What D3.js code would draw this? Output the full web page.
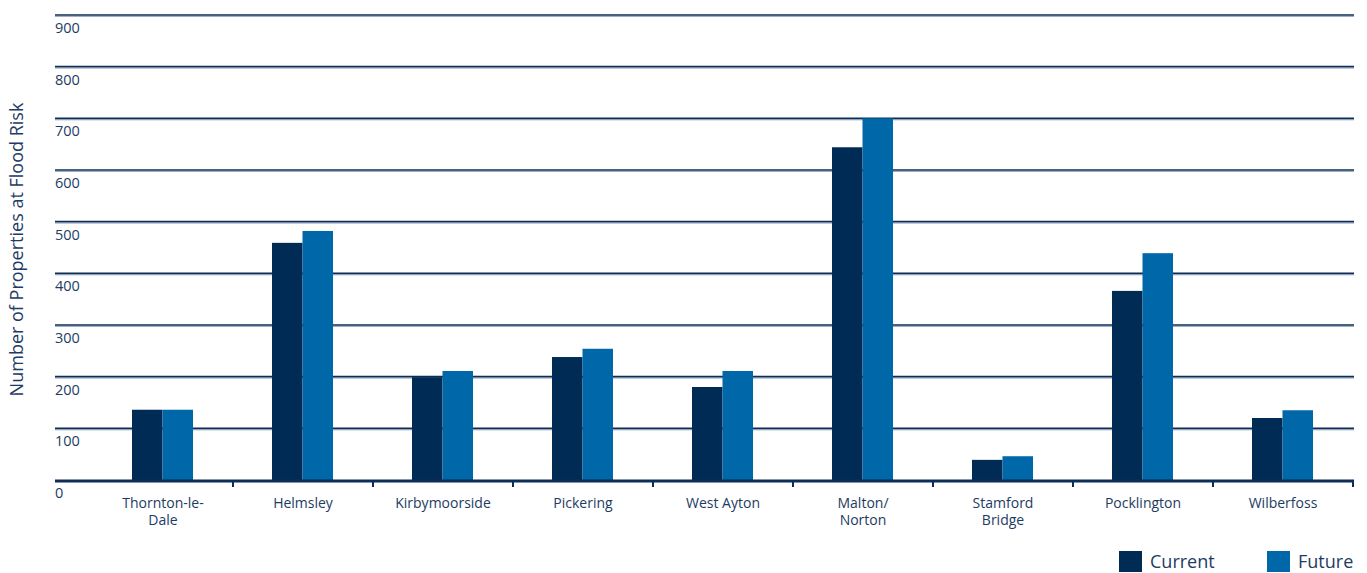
<!DOCTYPE html>
<html>
<head>
<meta charset="utf-8">
<script src="https://cdn.jsdelivr.net/npm/d3@7"></script>
<style>
  body { margin: 0; background: #fff; }
  svg text { font-family: 'Open Sans', sans-serif; fill: #1d3b63; }
</style>
</head>
<body>
<div class="canvas"></div>
<script>
// data
const towns = [
  ['Thornton-le-', 'Dale'],
  ['Helmsley'],
  ['Kirbymoorside'],
  ['Pickering'],
  ['West Ayton'],
  ['Malton/', 'Norton'],
  ['Stamford', 'Bridge'],
  ['Pocklington'],
  ['Wilberfoss']
];
const current = [136, 459, 199, 238, 180, 644, 39, 366, 120];
const future = [136, 482, 211, 254, 211, 700, 46, 439, 135];
const seriesNames = ['Current', 'Future'];
const yTicks = [0, 100, 200, 300, 400, 500, 600, 700, 800, 900];

// graph
const dims = { width: 1367, height: 573 };
const plot = { left: 55, right: 1354, top: 15, bottom: 480, bandStart: 93, bandEnd: 1353 };
const colors = ['#002b55', '#0067a8'];

const svg = d3.select('.canvas')
  .append('svg')
  .attr('width', dims.width)
  .attr('height', dims.height);

const y = d3.scaleLinear().domain([0, 900]).range([plot.bottom, plot.top]);
const x = d3.scaleBand()
  .domain(towns.map((d, i) => i))
  .range([plot.bandStart, plot.bandEnd]);
const xInner = d3.scaleBand().domain([0, 1]).range([0, 61]);

// gridlines
const grid = svg.append('g');
grid.selectAll('line.shade')
  .data(yTicks.filter((d) => d > 0))
  .enter()
  .append('line')
  .attr('x1', plot.left).attr('x2', plot.right)
  .attr('y1', (d) => y(d) + 1.5).attr('y2', (d) => y(d) + 1.5)
  .attr('stroke', '#9fb0c6').attr('stroke-width', 1);
grid.selectAll('line.main')
  .data(yTicks.filter((d) => d > 0))
  .enter()
  .append('line')
  .attr('x1', plot.left).attr('x2', plot.right)
  .attr('y1', (d) => y(d)).attr('y2', (d) => y(d))
  .attr('stroke', '#0d2d57').attr('stroke-width', 1.6);

// tick labels (below the line)
svg.append('g').selectAll('text')
  .data(yTicks)
  .enter()
  .append('text')
  .attr('x', plot.left)
  .attr('y', (d) => y(d) + 18)
  .attr('font-size', '14.5px')
  .text((d) => d);

// bars
const groups = svg.append('g').selectAll('g')
  .data(towns.map((t, i) => [current[i], future[i]]))
  .enter()
  .append('g')
  .attr('transform', (d, i) => `translate(${x(i) + x.bandwidth() / 2 - 31}, 0)`);

groups.selectAll('rect')
  .data((d) => d)
  .enter()
  .append('rect')
  .attr('x', (d, i) => xInner(i))
  .attr('width', xInner.bandwidth())
  .attr('y', (d) => y(d))
  .attr('height', (d) => plot.bottom - y(d))
  .attr('fill', (d, i) => colors[i]);

// baseline and ticks
svg.append('line')
  .attr('x1', plot.left).attr('x2', plot.right)
  .attr('y1', plot.bottom + 1).attr('y2', plot.bottom + 1)
  .attr('stroke', '#0d2d57').attr('stroke-width', 3);
svg.append('g').selectAll('line')
  .data(towns.map((d, i) => i))
  .enter()
  .append('line')
  .attr('x1', (d) => x(d) + x.bandwidth()).attr('x2', (d) => x(d) + x.bandwidth())
  .attr('y1', plot.bottom).attr('y2', plot.bottom + 7)
  .attr('stroke', '#0d2d57').attr('stroke-width', 2);

// category labels
const labels = svg.append('g').selectAll('text')
  .data(towns)
  .enter()
  .append('text')
  .attr('text-anchor', 'middle')
  .attr('font-size', '14px')
  .attr('transform', (d, i) => `translate(${x(i) + x.bandwidth() / 2}, 508)`);
labels.selectAll('tspan')
  .data((d) => d)
  .enter()
  .append('tspan')
  .attr('x', 0)
  .attr('dy', (d, i) => (i === 0 ? 0 : 17))
  .text((d) => d);

// y title
svg.append('text')
  .attr('transform', `translate(23, ${(plot.top + plot.bottom) / 2 + 2}) rotate(-90)`)
  .attr('text-anchor', 'middle')
  .attr('font-size', '18px')
  .text('Number of Properties at Flood Risk');

// legend
const legend = svg.append('g').selectAll('g')
  .data(seriesNames)
  .enter()
  .append('g')
  .attr('transform', (d, i) => `translate(${1119 + i * 148}, 551)`);
legend.append('rect')
  .attr('width', 23).attr('height', 21)
  .attr('fill', (d, i) => colors[i]);
legend.append('text')
  .attr('x', 31).attr('y', 17)
  .attr('font-size', '18px')
  .text((d) => d);
</script>
</body>
</html>
